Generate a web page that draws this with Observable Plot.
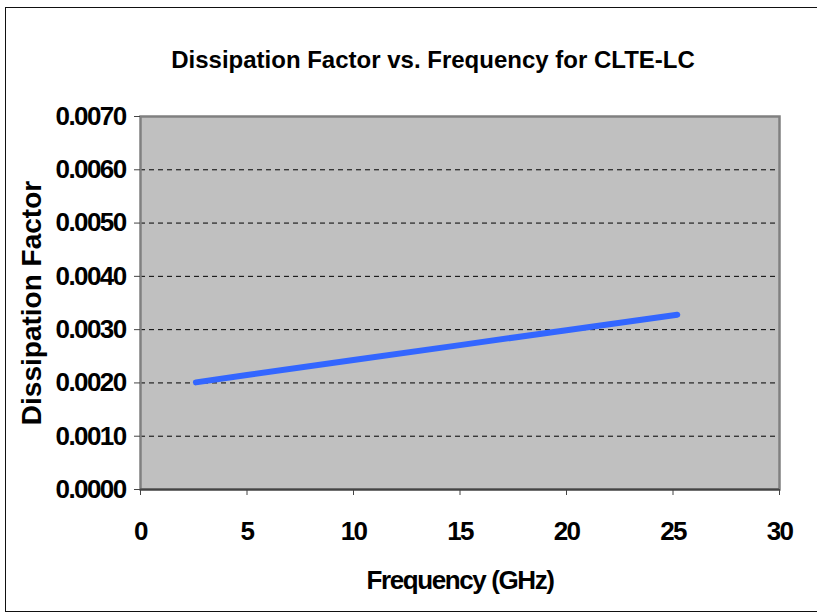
<!DOCTYPE html>
<html><head><meta charset="utf-8">
<script src="https://cdn.jsdelivr.net/npm/d3@7"></script>
<script src="https://cdn.jsdelivr.net/npm/@observablehq/plot@0.6"></script>
<style>
body{margin:0;background:#fff}
#wrap{position:relative;width:817px;height:613px;overflow:hidden;background:#fff}
#wrap svg{position:absolute;left:0;top:0}
#border{position:absolute;left:5px;top:7px;width:900px;height:605px;border:1.5px solid #111;border-right:none;box-sizing:border-box;pointer-events:none}
</style></head><body><div id="wrap"></div>
<script>
const frequency = [2.6, 5, 10, 15, 20, 25.2];
const dissipation = [0.00201, 0.00215, 0.00243, 0.00271, 0.00299, 0.00328];
const xTicks = [0, 5, 10, 15, 20, 25, 30];
const yTicks = [0, 0.001, 0.002, 0.003, 0.004, 0.005, 0.006, 0.007];
const titleText = "Dissipation Factor vs. Frequency for CLTE-LC";
const xLabel = "Frequency (GHz)";
const yLabel = "Dissipation Factor";

const data = frequency.map((f, i) => ({f, d: dissipation[i]}));
const gridTicks = yTicks.slice(1, -1);
const font = "'Liberation Sans', Arial, sans-serif";

const svg = Plot.plot({
  width: 817,
  height: 613,
  marginLeft: 140,
  marginTop: 116,
  marginRight: 38,
  marginBottom: 124,
  style: {fontFamily: font, background: "transparent", overflow: "visible"},
  x: {domain: [0, 30], ticks: xTicks},
  y: {domain: [0, 0.007], ticks: yTicks},
  marks: [
    Plot.frame({fill: "#c0c0c0", stroke: null}),
    Plot.ruleY(gridTicks, {stroke: "#000", strokeWidth: 1, strokeDasharray: "5,4"}),
    Plot.line(data, {x: "f", y: "d", stroke: "#3366ff", strokeWidth: 6, strokeLinecap: "round", strokeLinejoin: "round"}),
    Plot.frame({stroke: "#808080", strokeWidth: 2.5}),
    Plot.ruleY([0], {stroke: "#444", strokeWidth: 2}),
    Plot.axisX({ticks: xTicks, tickSize: 6, tickPadding: 26, stroke: "#444", fontSize: 26, fontWeight: "bold", fill: "#000", label: null, tickFormat: d3.format("d")}),
    Plot.axisY({ticks: yTicks, tickSize: 6, tickPadding: 9, stroke: "#444", fontSize: 26, fontWeight: "bold", fill: "#000", label: null, tickFormat: d3.format(".4f")}),
    Plot.text([titleText], {frameAnchor: "top", dx: -27, dy: -56, lineAnchor: "middle", text: d => d, fontSize: 24, fontWeight: "bold", fill: "#000"}),
    Plot.text([xLabel], {frameAnchor: "bottom", dy: 91, lineAnchor: "middle", text: d => d, fontSize: 26, fontWeight: "bold", fill: "#000"}),
    Plot.text([yLabel], {frameAnchor: "left", dx: -108, rotate: -90, textAnchor: "middle", lineAnchor: "middle", text: d => d, fontSize: 28, fontWeight: "bold", fill: "#000"})
  ]
});

d3.select(svg).selectAll('g[aria-label$="tick label"]').style("letter-spacing", "-1.6px");
d3.select(svg).selectAll("text").filter(function() { return this.textContent === xLabel; }).style("letter-spacing", "-1.4px");

const wrap = document.getElementById("wrap");
wrap.appendChild(svg);
const b = document.createElement("div");
b.id = "border";
wrap.appendChild(b);
</script>
</body></html>
